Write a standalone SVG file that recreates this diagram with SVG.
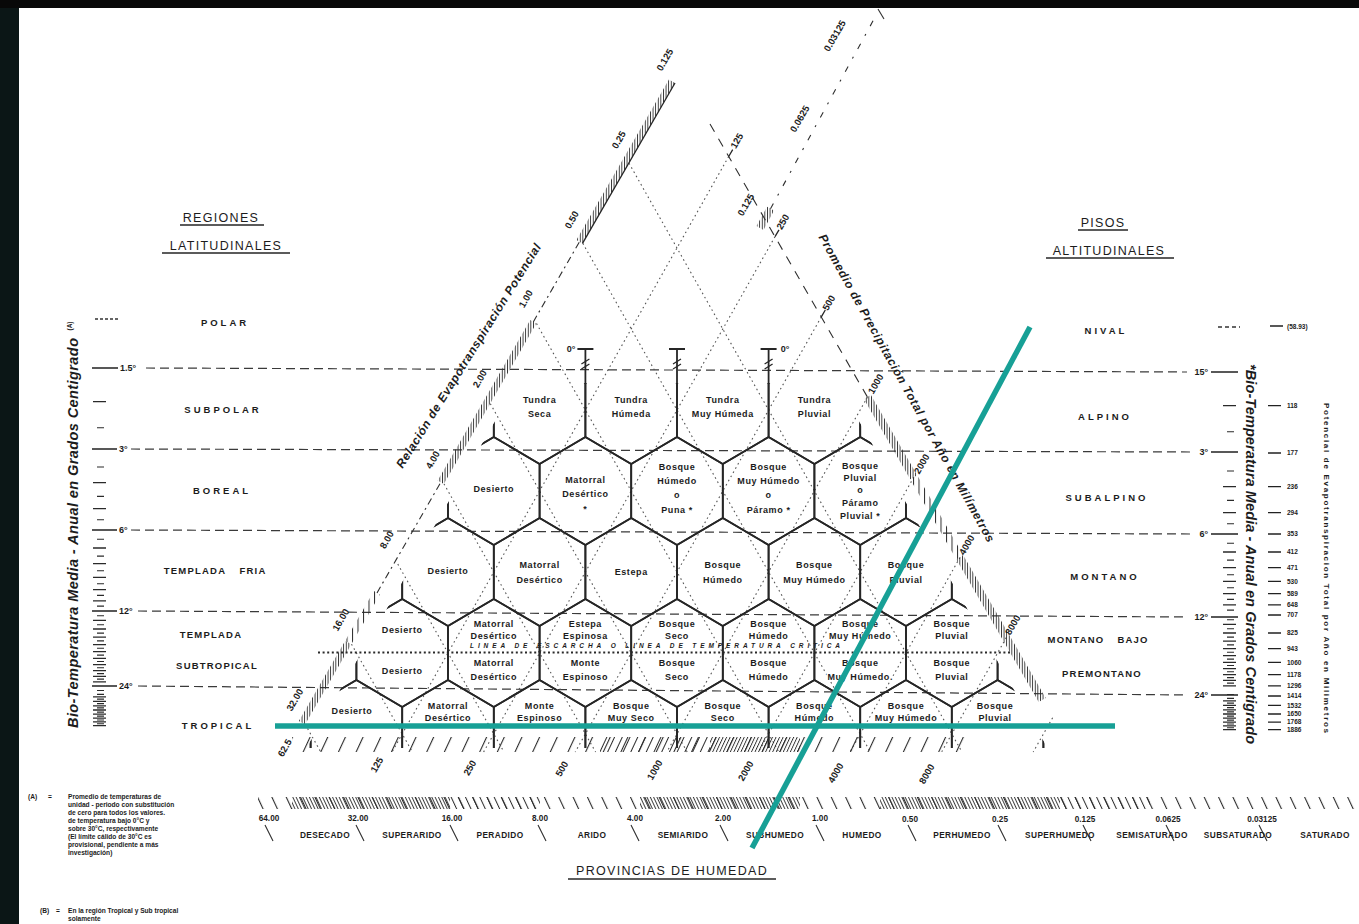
<svg xmlns="http://www.w3.org/2000/svg" width="1359" height="924" viewBox="0 0 1359 924">
<defs>
<style>
text{font-family:"Liberation Sans","DejaVu Sans",Arial,sans-serif;font-weight:bold;fill:#1c1c1c}
.hl{font-size:9px;letter-spacing:.6px;text-anchor:middle;stroke:#fff;stroke-width:3px;paint-order:stroke;stroke-linejoin:round}
.rg{font-size:9.5px;text-anchor:middle;letter-spacing:3px}
.rg1{font-size:9.5px;text-anchor:middle;letter-spacing:1.2px}
.tt{font-size:12.5px;font-weight:normal;text-anchor:middle;letter-spacing:1.3px}
.sl{font-size:9.5px;text-anchor:middle}
.tv{font-size:9px}
.ax{font-size:14.5px;font-style:italic;text-anchor:middle}
.lab{font-size:12px;font-style:italic;text-anchor:middle}
.pv{font-size:8.3px;text-anchor:middle;letter-spacing:.4px}
.hn{font-size:8.2px;text-anchor:middle}
.fn{font-size:6.6px}
.pet{font-size:6.5px}
.hex{fill:none;stroke:#262626;stroke-width:1.8}
.tl{fill:none;stroke:#3a3a3a;stroke-width:1.2;stroke-dasharray:9 5}
.dt{fill:none;stroke:#555;stroke-width:1.1;stroke-dasharray:1.6 3.2}
.ln{fill:none;stroke:#262626;stroke-width:1.3}
.sp{fill:none;stroke:#2e2e2e;stroke-width:1.1}
.teal{stroke:#17a096;stroke-width:5.5;fill:none}
</style>
<path id="hx" d="M0,-54L45.8,-27L45.8,27L0,54L-45.8,27L-45.8,-27Z"/>
<clipPath id="tri"><polygon points="517.2,383 836.8,383 1047.4,748 306.6,748"/></clipPath>
<pattern id="v3" width="2.6" height="8" patternUnits="userSpaceOnUse"><rect width="0.9" height="8" fill="#2b2b2b"/></pattern>
<pattern id="v6" width="5.5" height="8" patternUnits="userSpaceOnUse"><rect width="1" height="8" fill="#2b2b2b"/></pattern>
<pattern id="sf" width="3.2" height="20" patternUnits="userSpaceOnUse" patternTransform="rotate(25)"><rect width="0.9" height="20" fill="#2b2b2b"/></pattern>
<pattern id="sfm" width="7" height="20" patternUnits="userSpaceOnUse" patternTransform="rotate(25)"><rect width="1" height="20" fill="#2b2b2b"/></pattern>
<pattern id="sfs" width="16" height="20" patternUnits="userSpaceOnUse" patternTransform="rotate(25)"><rect width="1.1" height="20" fill="#2b2b2b"/></pattern>
<pattern id="sb" width="3" height="20" patternUnits="userSpaceOnUse" patternTransform="rotate(-25)"><rect width="0.9" height="20" fill="#2b2b2b"/></pattern>
<pattern id="sbm" width="6.5" height="20" patternUnits="userSpaceOnUse" patternTransform="rotate(-25)"><rect width="1" height="20" fill="#2b2b2b"/></pattern>
<pattern id="sbs" width="13" height="20" patternUnits="userSpaceOnUse" patternTransform="rotate(-25)"><rect width="1.1" height="20" fill="#2b2b2b"/></pattern>
<path id="tkL" d="M0 401.6h13M0 482.6h13M0 508.7h13M0 548h13M0 563.6h13M0 577.4h13M0 589.7h13M0 600.8h13M0 620.3h13M0 629h13M0 637.1h13M0 644.6h13M0 651.7h13M0 658.4h13M0 664.7h13M0 670.7h13M0 676.4h13M0 681.8h13M0 696.8h13M0 701.3h13M0 705.8h13M0 710h13M0 714.1h13M0 718.1h13M0 721.9h13M0 725.6h13"/>
<path id="tkS" d="M4 427.7h7M4 467h7M4 496.4h7M4 519.8h7M4 539.3h7M4 556.1h7M4 570.7h7M4 583.7h7M4 595.4h7M4 606.1h7M4 615.8h7M4 624.8h7M4 633.1h7M4 640.9h7M4 648.2h7M4 655.1h7M4 661.5h7M4 667.7h7M4 673.6h7M4 679.1h7M4 690.5h7M4 694.4h7M4 699.1h7M4 703.6h7M4 707.9h7M4 712.1h7M4 716.1h7M4 720h7M4 723.8h7"/>
</defs>

<g id="frame">
<rect width="1359" height="924" fill="#ffffff"/>
<rect width="19" height="924" fill="#0b1616"/>
<rect width="1359" height="8" fill="#080808"/>
</g>

<g id="temperature-lines" class="tl">
<path d="M146 368L1187 372M131 449L1193 452M131 530L1193 534M138 611L1188 617M138 686L1188 695"/>
</g>

<g id="guide-lines" class="dt">
<path d="M305.2,724.4L320.8,752M351.5,644.2L412.4,752M397.8,564.1L504,752M444,483.9L595.6,752M490.3,403.7L687.2,752M536.5,323.5L778.8,752M582.8,243.3L870.4,752M629,163.2L962,752"/>
<path d="M728.7,156.5L392,752M775,236.7L483.6,752M821.3,316.9L575.2,752M867.5,397L666.8,752M913.8,477.2L758.4,752M960,557.4L850,752M1006.3,637.6L941.6,752M1052.6,717.8L1033.2,752"/>
</g>

<g id="frost-line">
<path d="M318 652.5H1012" fill="none" stroke="#2a2a2a" stroke-width="2" stroke-dasharray="2 2.6"/>
<text x="470" y="648" font-size="6.5" font-style="italic" textLength="370" lengthAdjust="spacing">LINEA DE ESCARCHA O LINEA DE TEMPERATURA CRITICA</text>
</g>

<g id="hexagons" class="hex" clip-path="url(#tri)">
<use href="#hx" x="448" y="410"/><use href="#hx" x="539.6" y="410"/><use href="#hx" x="631.2" y="410"/><use href="#hx" x="722.8" y="410"/><use href="#hx" x="814.4" y="410"/><use href="#hx" x="906" y="410"/>
<use href="#hx" x="402.2" y="491"/><use href="#hx" x="493.8" y="491"/><use href="#hx" x="585.4" y="491"/><use href="#hx" x="677" y="491"/><use href="#hx" x="768.6" y="491"/><use href="#hx" x="860.2" y="491"/><use href="#hx" x="951.8" y="491"/>
<use href="#hx" x="356.4" y="572"/><use href="#hx" x="448" y="572"/><use href="#hx" x="539.6" y="572"/><use href="#hx" x="631.2" y="572"/><use href="#hx" x="722.8" y="572"/><use href="#hx" x="814.4" y="572"/><use href="#hx" x="906" y="572"/><use href="#hx" x="997.6" y="572"/>
<use href="#hx" x="310.6" y="653"/><use href="#hx" x="402.2" y="653"/><use href="#hx" x="493.8" y="653"/><use href="#hx" x="585.4" y="653"/><use href="#hx" x="677" y="653"/><use href="#hx" x="768.6" y="653"/><use href="#hx" x="860.2" y="653"/><use href="#hx" x="951.8" y="653"/><use href="#hx" x="1043.4" y="653"/>
<use href="#hx" x="264.8" y="734"/><use href="#hx" x="356.4" y="734"/><use href="#hx" x="448" y="734"/><use href="#hx" x="539.6" y="734"/><use href="#hx" x="631.2" y="734"/><use href="#hx" x="722.8" y="734"/><use href="#hx" x="814.4" y="734"/><use href="#hx" x="906" y="734"/><use href="#hx" x="997.6" y="734"/><use href="#hx" x="1089.2" y="734"/>
</g>

<g id="zero-marks">
<path class="hex" d="M585.4 349V384M677 349V384M768.6 349V384M577.4 349H593.4M669 349H685M760.6 349H776.6"/>
<path class="ln" d="M581.4 364L589.4 359M581.4 369L589.4 364M673 364L681 359M673 369L681 364M764.6 364L772.6 359M764.6 369L772.6 364"/>
<text class="tv" x="571" y="352" text-anchor="middle" font-size="8">0°</text>
<text class="tv" x="785" y="352" text-anchor="middle" font-size="8">0°</text>
</g>

<g id="scale-ratio">
<polygon points="305,724.5 351.3,644.3 345.2,640.8 298.9,721" fill="url(#v3)"/>
<polygon points="351.3,644.3 380,594.6 373.9,591.1 345.2,640.8" fill="url(#v6)"/>
<polygon points="443.8,484 536.3,323.6 530.2,320.1 437.7,480.5" fill="url(#v3)"/>
<polygon points="582.5,243.4 675,83 668.9,79.5 576.4,239.9" fill="url(#v3)"/>
<path class="ln" d="M582.5,243.4L675,83"/>
<path class="sp" d="M377,592.9L440.8,482.3M533.3,321.9L579.5,241.7" stroke-width="1.4" stroke-dasharray="7 4 2 4"/>
<text class="sl" transform="translate(295,700) rotate(-60)" dy="3">32.00</text>
<text class="sl" transform="translate(341,620) rotate(-60)" dy="3">16.00</text>
<text class="sl" transform="translate(387,540) rotate(-60)" dy="3">8.00</text>
<text class="sl" transform="translate(433,460) rotate(-60)" dy="3">4.00</text>
<text class="sl" transform="translate(480,379) rotate(-60)" dy="3">2.00</text>
<text class="sl" transform="translate(526,299) rotate(-60)" dy="3">1.00</text>
<text class="sl" transform="translate(572,220) rotate(-60)" dy="3">0.50</text>
<text class="sl" transform="translate(619,140) rotate(-60)" dy="3">0.25</text>
<text class="sl" transform="translate(665,60) rotate(-60)" dy="3">0.125</text>
<text class="lab" transform="translate(472,358) rotate(-58)" textLength="262" lengthAdjust="spacing">Relación de Evapotranspiración Potencial</text>
</g>

<g id="scale-precip">
<path class="sp" d="M710,124L867.4,397" stroke-width="1.4" stroke-dasharray="9 8"/>
<polygon points="870.9,395 917.2,475.2 910.2,479.2 863.9,399" fill="url(#v3)"/>
<polygon points="917.2,475.2 963.4,555.4 956.4,559.4 910.2,479.2" fill="url(#v6)"/>
<polygon points="963.4,555.4 1045.7,698 1038.7,702 956.4,559.4" fill="url(#v3)"/>
<path class="ln" d="M728.7,156.5l4,-6.9M775,236.7l4,-6.9M821.3,316.9l4,-6.9"/>
<text class="sl" transform="translate(737,141) rotate(-60)" dy="3">125</text>
<text class="sl" transform="translate(783,222) rotate(-60)" dy="3">250</text>
<text class="sl" transform="translate(829,303) rotate(-60)" dy="3">500</text>
<text class="sl" transform="translate(876,384) rotate(-60)" dy="3">1000</text>
<text class="sl" transform="translate(922,464) rotate(-60)" dy="3">2000</text>
<text class="sl" transform="translate(967,545) rotate(-60)" dy="3">4000</text>
<text class="sl" transform="translate(1013,625) rotate(-60)" dy="3">8000</text>
<text class="lab" transform="translate(903,390) rotate(61)" textLength="350" lengthAdjust="spacing">Promedio de Precipitación Total por Año en Milímetros</text>
</g>

<g id="scale-top">
<polygon points="756.5,226.1 767,206.8 774,210.6 763.5,229.9" fill="url(#v3)"/>
<path class="sp" d="M770.5,208.7L873.5,20" stroke-width="1.4" stroke-dasharray="6 9 2 9"/>
<path class="sp" d="M878,9L884,19" stroke-width="1.4"/>
<text class="sl" transform="translate(746,205) rotate(-60)" dy="3">0.125</text>
<text class="sl" transform="translate(800,119) rotate(-60)" dy="3">0.0625</text>
<text class="sl" transform="translate(835,36) rotate(-60)" dy="3">0.03125</text>
</g>

<g id="scale-bottom">
<rect x="292" y="737" width="676" height="15" fill="url(#sfs)"/>
<rect x="600" y="737" width="110" height="15" fill="url(#sfm)"/>
<rect x="710" y="737" width="90" height="15" fill="url(#sf)"/>
<text class="sl" transform="translate(285,748) rotate(-60)" dy="3">62.5</text>
<text class="sl" transform="translate(377,765) rotate(-60)" dy="3">125</text>
<text class="sl" transform="translate(470,768) rotate(-60)" dy="3">250</text>
<text class="sl" transform="translate(562,769) rotate(-60)" dy="3">500</text>
<text class="sl" transform="translate(655,770) rotate(-60)" dy="3">1000</text>
<text class="sl" transform="translate(746,771) rotate(-60)" dy="3">2000</text>
<text class="sl" transform="translate(836,773) rotate(-60)" dy="3">4000</text>
<text class="sl" transform="translate(927,774) rotate(-60)" dy="3">8000</text>
</g>

<g id="humidity-scale">
<rect x="258" y="797" width="1097" height="12" fill="url(#sbs)"/>
<rect x="292" y="797" width="158" height="12" fill="url(#sb)"/>
<rect x="450" y="797" width="90" height="12" fill="url(#sbm)"/>
<rect x="640" y="797" width="160" height="12" fill="url(#sb)"/>
<rect x="880" y="797" width="180" height="12" fill="url(#sb)"/>
<rect x="1060" y="797" width="90" height="12" fill="url(#sbm)"/>
<path class="sp" stroke-width="1.2" d="M265 825l8 16M356 825l8 16M450 825l8 16M538 825l8 16M631 825l8 16M720 825l8 16M816 825l8 16M908 825l8 16M998 825l8 16M1083 825l8 16M1166 825l8 16M1259 825l8 16"/>
<text class="hn" x="269" y="821">64.00</text>
<text class="hn" x="358" y="821">32.00</text>
<text class="hn" x="452" y="821">16.00</text>
<text class="hn" x="540" y="821">8.00</text>
<text class="hn" x="635" y="821">4.00</text>
<text class="hn" x="723" y="821">2.00</text>
<text class="hn" x="820" y="821">1.00</text>
<text class="hn" x="910" y="822">0.50</text>
<text class="hn" x="1000" y="822">0.25</text>
<text class="hn" x="1085" y="822">0.125</text>
<text class="hn" x="1168" y="822">0.0625</text>
<text class="hn" x="1262" y="822">0.03125</text>
<text class="pv" x="325" y="838">DESECADO</text>
<text class="pv" x="412" y="838">SUPERARIDO</text>
<text class="pv" x="500" y="838">PERADIDO</text>
<text class="pv" x="592" y="838">ARIDO</text>
<text class="pv" x="683" y="838">SEMIARIDO</text>
<text class="pv" x="775" y="838">SUBHUMEDO</text>
<text class="pv" x="862" y="838">HUMEDO</text>
<text class="pv" x="962" y="838">PERHUMEDO</text>
<text class="pv" x="1060" y="838">SUPERHUMEDO</text>
<text class="pv" x="1152" y="838">SEMISATURADO</text>
<text class="pv" x="1238" y="838">SUBSATURADO</text>
<text class="pv" x="1325" y="838">SATURADO</text>
<text class="tt" x="672" y="875">PROVINCIAS DE HUMEDAD</text>
<path class="ln" d="M568 879H776"/>
</g>

<g id="left-axis">
<text class="tt" x="221" y="221.5">REGIONES</text>
<text class="tt" x="226" y="249.5">LATITUDINALES</text>
<path class="ln" d="M180 225H264M162 253H290"/>
<text class="rg" x="225" y="325.5">POLAR</text>
<text class="rg" x="223" y="412.5">SUBPOLAR</text>
<text class="rg" x="222" y="493.5">BOREAL</text>
<text class="rg1" x="195" y="573.5">TEMPLADA</text>
<text class="rg1" x="253" y="573.5">FRIA</text>
<text class="rg1" x="211" y="637.5">TEMPLADA</text>
<text class="rg1" x="217" y="669">SUBTROPICAL</text>
<text class="rg" x="218" y="728.5">TROPICAL</text>
<path d="M95 319H118" fill="none" stroke="#333" stroke-width="1.3" stroke-dasharray="3 2"/>
<path d="M92 368H118M92 449H117M92 530H117M92 611H117M92 686H117" fill="none" stroke="#222" stroke-width="1.6"/>
<use href="#tkL" x="93" stroke="#2a2a2a" stroke-width="1.3"/>
<use href="#tkS" x="93" stroke="#2a2a2a" stroke-width="1.1"/>
<text class="tv" x="120" y="371">1.5°</text>
<text class="tv" x="119" y="452">3°</text>
<text class="tv" x="119" y="533">6°</text>
<text class="tv" x="119" y="614">12°</text>
<text class="tv" x="119" y="689">24°</text>
<text class="ax" transform="translate(78,533) rotate(-90)" textLength="390" lengthAdjust="spacing">Bio-Temperatura Media - Anual en Grados Centigrado</text>
<text transform="translate(72,326) rotate(-90)" font-size="6.5" text-anchor="middle">(A)</text>
</g>

<g id="right-axis">
<text class="tt" x="1103" y="226.5">PISOS</text>
<text class="tt" x="1109" y="254.5">ALTITUDINALES</text>
<path class="ln" d="M1078 230H1128M1046 258H1174"/>
<text class="rg" x="1106" y="333.5">NIVAL</text>
<text class="rg" x="1105" y="419.5">ALPINO</text>
<text class="rg" x="1107" y="500.5">SUBALPINO</text>
<text class="rg" x="1105" y="579.5">MONTANO</text>
<text class="rg1" x="1076" y="642.5">MONTANO</text>
<text class="rg1" x="1133" y="642.5">BAJO</text>
<text class="rg1" x="1102" y="676.5">PREMONTANO</text>
<path d="M1218 327H1240" fill="none" stroke="#333" stroke-width="1.3" stroke-dasharray="4 3"/>
<text class="tv" x="1208" y="375" text-anchor="end">15°</text>
<text class="tv" x="1208" y="455" text-anchor="end">3°</text>
<text class="tv" x="1208" y="537" text-anchor="end">6°</text>
<text class="tv" x="1208" y="620" text-anchor="end">12°</text>
<text class="tv" x="1208" y="698" text-anchor="end">24°</text>
<path d="M1211 372H1238M1211 452H1238M1211 534H1238M1211 617H1238M1211 695H1238" fill="none" stroke="#222" stroke-width="1.6"/>
<use href="#tkL" x="1223" y="4" stroke="#2a2a2a" stroke-width="1.3"/>
<use href="#tkS" x="1223" y="4" stroke="#2a2a2a" stroke-width="1.1"/>
<text class="ax" font-size="14" transform="translate(1246,554) rotate(90)" textLength="380" lengthAdjust="spacing">*Bio-Temperatura Media - Anual en Grados Centigrado</text>
<path fill="none" stroke="#222" stroke-width="1.3" d="M1270 326H1283M1268 405.6H1281M1268 453H1281M1268 486.6H1281M1268 512.7H1281M1268 534H1281M1268 552H1281M1268 567.6H1281M1268 581.4H1281M1268 593.7H1281M1268 604.8H1281M1268 615H1281M1268 633H1281M1268 648.6H1281M1268 662.4H1281M1268 674.7H1281M1268 685.8H1281M1268 696H1281M1268 705.3H1281M1268 714H1281M1268 722.1H1281M1268 729.6H1281"/>
<g class="pet">
<text x="1287" y="328.5">(58.93)</text>
<text x="1287" y="407.9">118</text>
<text x="1287" y="455.3">177</text>
<text x="1287" y="488.9">236</text>
<text x="1287" y="515">294</text>
<text x="1287" y="536.3">353</text>
<text x="1287" y="554.3">412</text>
<text x="1287" y="569.9">471</text>
<text x="1287" y="583.7">530</text>
<text x="1287" y="596">589</text>
<text x="1287" y="607.1">648</text>
<text x="1287" y="617.3">707</text>
<text x="1287" y="635.3">825</text>
<text x="1287" y="650.9">943</text>
<text x="1287" y="664.7">1060</text>
<text x="1287" y="677">1178</text>
<text x="1287" y="688.1">1296</text>
<text x="1287" y="698.3">1414</text>
<text x="1287" y="707.6">1532</text>
<text x="1287" y="716.3">1650</text>
<text x="1287" y="724.4">1768</text>
<text x="1287" y="731.9">1886</text>
</g>
<text transform="translate(1324,568) rotate(90)" font-size="8" text-anchor="middle" textLength="330" lengthAdjust="spacing">Potencial de Evapotranspiracion Total por Año en Milimetros</text>
</g>

<g id="zone-labels" class="hl">
<text><tspan x="539.6" y="403">Tundra</tspan><tspan x="539.6" y="417">Seca</tspan></text>
<text><tspan x="631.2" y="403">Tundra</tspan><tspan x="631.2" y="417">Húmeda</tspan></text>
<text><tspan x="722.8" y="403">Tundra</tspan><tspan x="722.8" y="417">Muy Húmeda</tspan></text>
<text><tspan x="814.4" y="403">Tundra</tspan><tspan x="814.4" y="417">Pluvial</tspan></text>

<text x="493.8" y="492">Desierto</text>
<text><tspan x="585.4" y="483">Matorral</tspan><tspan x="585.4" y="497">Desértico</tspan><tspan x="585.4" y="512">*</tspan></text>
<text><tspan x="677" y="470">Bosque</tspan><tspan x="677" y="484">Húmedo</tspan><tspan x="677" y="498">o</tspan><tspan x="677" y="513">Puna *</tspan></text>
<text><tspan x="768.6" y="470">Bosque</tspan><tspan x="768.6" y="484">Muy Húmedo</tspan><tspan x="768.6" y="498">o</tspan><tspan x="768.6" y="513">Páramo *</tspan></text>
<text><tspan x="860.2" y="469">Bosque</tspan><tspan x="860.2" y="481">Pluvial</tspan><tspan x="860.2" y="493">o</tspan><tspan x="860.2" y="506">Páramo</tspan><tspan x="860.2" y="519">Pluvial *</tspan></text>

<text x="448" y="574">Desierto</text>
<text><tspan x="539.6" y="568">Matorral</tspan><tspan x="539.6" y="583">Desértico</tspan></text>
<text x="631.2" y="575">Estepa</text>
<text><tspan x="722.8" y="568">Bosque</tspan><tspan x="722.8" y="583">Húmedo</tspan></text>
<text><tspan x="814.4" y="568">Bosque</tspan><tspan x="814.4" y="583">Muy Húmedo</tspan></text>
<text><tspan x="906" y="568">Bosque</tspan><tspan x="906" y="583">Pluvial</tspan></text>

<text x="402.2" y="633">Desierto</text>
<text><tspan x="493.8" y="627">Matorral</tspan><tspan x="493.8" y="639">Desértico</tspan></text>
<text><tspan x="585.4" y="627">Estepa</tspan><tspan x="585.4" y="639">Espinosa</tspan></text>
<text><tspan x="677" y="627">Bosque</tspan><tspan x="677" y="639">Seco</tspan></text>
<text><tspan x="768.6" y="627">Bosque</tspan><tspan x="768.6" y="639">Húmedo</tspan></text>
<text><tspan x="860.2" y="627">Bosque</tspan><tspan x="860.2" y="639">Muy Húmedo</tspan></text>
<text><tspan x="951.8" y="627">Bosque</tspan><tspan x="951.8" y="639">Pluvial</tspan></text>

<text x="402.2" y="674">Desierto</text>
<text><tspan x="493.8" y="666">Matorral</tspan><tspan x="493.8" y="680">Desértico</tspan></text>
<text><tspan x="585.4" y="666">Monte</tspan><tspan x="585.4" y="680">Espinoso</tspan></text>
<text><tspan x="677" y="666">Bosque</tspan><tspan x="677" y="680">Seco</tspan></text>
<text><tspan x="768.6" y="666">Bosque</tspan><tspan x="768.6" y="680">Húmedo</tspan></text>
<text><tspan x="860.2" y="666">Bosque</tspan><tspan x="860.2" y="680">Muy Húmedo.</tspan></text>
<text><tspan x="951.8" y="666">Bosque</tspan><tspan x="951.8" y="680">Pluvial</tspan></text>

<text x="352" y="714">Desierto</text>
<text><tspan x="448" y="709">Matorral</tspan><tspan x="448" y="721">Desértico</tspan></text>
<text><tspan x="539.6" y="709">Monte</tspan><tspan x="539.6" y="721">Espinoso</tspan></text>
<text><tspan x="631.2" y="709">Bosque</tspan><tspan x="631.2" y="721">Muy Seco</tspan></text>
<text><tspan x="722.8" y="709">Bosque</tspan><tspan x="722.8" y="721">Seco</tspan></text>
<text><tspan x="814.4" y="709">Bosque</tspan><tspan x="814.4" y="721">Húmedo</tspan></text>
<text><tspan x="906" y="709">Bosque</tspan><tspan x="906" y="721">Muy Húmedo</tspan></text>
<text><tspan x="995" y="709">Bosque</tspan><tspan x="995" y="721">Pluvial</tspan></text>
</g>

<g id="footnotes" class="fn">
<text x="28" y="799">(A)</text>
<text x="48" y="799">=</text>
<text x="68" y="799">Promedio de temperaturas de</text>
<text x="68" y="807">unidad - periodo con substitución</text>
<text x="68" y="815">de cero para todos los valores.</text>
<text x="68" y="823">de temperatura bajo 0°C y</text>
<text x="68" y="831">sobre 30°C, respectivamente</text>
<text x="68" y="839">(El límite cálido de 30°C es</text>
<text x="68" y="847">provisional, pendiente a más</text>
<text x="68" y="855">investigación)</text>
<text x="40" y="913">(B)</text>
<text x="56" y="913">=</text>
<text x="68" y="913">En la región Tropical y Sub tropical</text>
<text x="68" y="921">solamente</text>
</g>

<g id="connectors">
<line class="teal" x1="275" y1="726" x2="1115" y2="726"/>
<line class="teal" x1="1030" y1="327" x2="752" y2="848"/>
</g>
</svg>
